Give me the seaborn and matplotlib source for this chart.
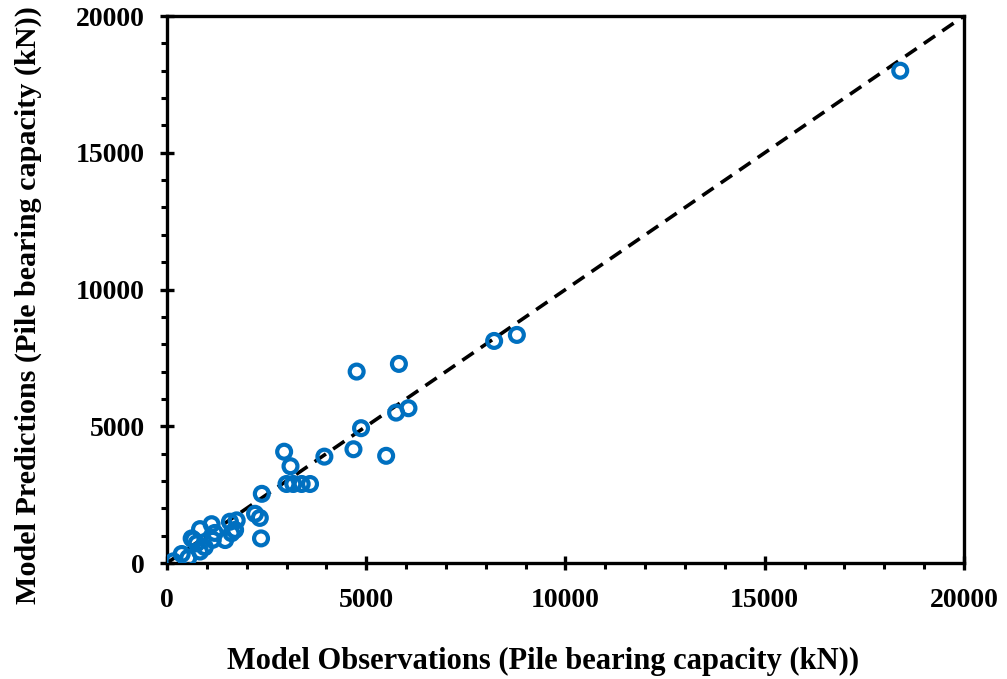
import pandas as pd
import matplotlib.pyplot as plt
import seaborn as sns
from matplotlib.ticker import MultipleLocator

# === Data ===
observed = [160, 370, 535, 620, 660, 745, 830, 830, 950, 1120, 1150, 1200,
            1460, 1580, 1620, 1710, 1750, 2210, 2330, 2360, 2380, 2940,
            3000, 3100, 3170, 3380, 3590, 3950, 4680, 4760, 4870, 5500,
            5750, 5820, 6060, 8210, 8780, 18400]
predicted = [60, 330, 190, 900, 860, 720, 1240, 420, 580, 1420, 850, 1100,
             840, 1510, 1090, 1210, 1560, 1800, 1650, 900, 2530, 4070,
             2890, 3540, 2890, 2890, 2890, 3890, 4160, 7000, 4930, 3920,
             5500, 7280, 5660, 8120, 8340, 18000]
line_x = [0, 20000]
line_y = [0, 20000]

df = pd.DataFrame({"obs": observed, "pred": predicted})

sns.set_style("ticks")
plt.rcParams['font.family'] = ['Liberation Serif', 'DejaVu Serif']
plt.rcParams['font.weight'] = 'bold'
plt.rcParams['text.color'] = 'black'
plt.rcParams['axes.labelcolor'] = 'black'
plt.rcParams['xtick.color'] = 'black'
plt.rcParams['ytick.color'] = 'black'

fig = plt.figure(figsize=(10.07, 6.79), dpi=100)
ax = fig.add_axes([0.1658, 0.1708, 0.7915, 0.8056])

sns.lineplot(x=line_x, y=line_y, ax=ax, color="black", lw=2.6,
             dashes=False, linestyle=(0, (3.8, 2.4)), zorder=2)
sns.scatterplot(data=df, x="obs", y="pred", ax=ax, marker="o", s=100,
                facecolor="none", edgecolor="#0070C0", linewidth=3.0, zorder=3)

ax.set_xlim(0, 20000)
ax.set_ylim(0, 20000)
ax.xaxis.set_major_locator(MultipleLocator(5000))
ax.yaxis.set_major_locator(MultipleLocator(5000))
ax.xaxis.set_minor_locator(MultipleLocator(1000))
ax.yaxis.set_minor_locator(MultipleLocator(1000))

for s in ax.spines.values():
    s.set_linewidth(2.4)
    s.set_color("black")
ax.tick_params(which="major", direction="inout", length=10, width=2.4,
               labelsize=20, pad=11)
ax.tick_params(axis="x", which="major", pad=13)
ax.tick_params(which="minor", direction="out", length=4, width=2.2)

ax.set_xlabel("Model Observations (Pile bearing capacity (kN))",
              fontsize=22, fontweight="bold")
ax.set_ylabel("Model Predictions (Pile bearing capacity (kN))",
              fontsize=21.7, fontweight="bold")
ax.xaxis.set_label_coords(0.472, -0.153)
ax.yaxis.set_label_coords(-0.157, 0.472)

fig.savefig("out.png", dpi=100)
